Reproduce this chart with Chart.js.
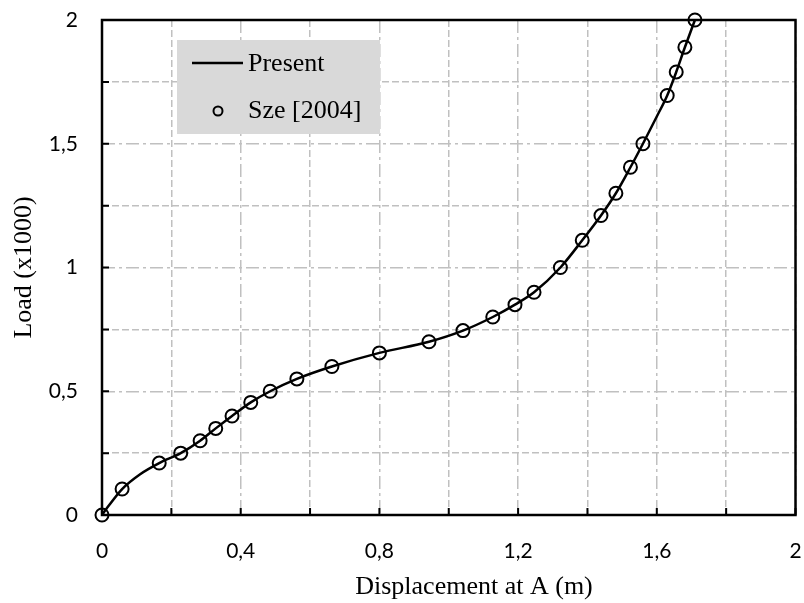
<!DOCTYPE html>
<html>
<head>
<meta charset="utf-8">
<script src="https://cdn.jsdelivr.net/npm/chart.js@4.4.0/dist/chart.umd.min.js"></script>
<style>
  body { margin: 0; background: #fff; }
</style>
</head>
<body>
<canvas id="chart" width="804" height="603"></canvas>
<script>
// Кривая нагрузка-перемещение (текущий расчёт)
const presentX = [0, 0.018, 0.058, 0.11, 0.165, 0.227, 0.283, 0.328, 0.375, 0.429, 0.485, 0.562, 0.663, 0.8, 0.943, 1.041, 1.127, 1.191, 1.246, 1.322, 1.385, 1.439, 1.482, 1.524, 1.56, 1.6, 1.63, 1.656, 1.681, 1.71];
const presentY = [0, 0.035, 0.105, 0.165, 0.21, 0.25, 0.3, 0.35, 0.4, 0.455, 0.5, 0.55, 0.6, 0.655, 0.7, 0.745, 0.8, 0.85, 0.9, 1.0, 1.11, 1.21, 1.3, 1.405, 1.5, 1.61, 1.695, 1.79, 1.89, 2.0];

// Точки из Sze [2004]
const szeX = [0, 0.058, 0.165, 0.227, 0.283, 0.328, 0.375, 0.429, 0.485, 0.562, 0.663, 0.8, 0.943, 1.041, 1.127, 1.191, 1.246, 1.322, 1.385, 1.439, 1.482, 1.524, 1.56, 1.63, 1.656, 1.681, 1.71];
const szeY = [0, 0.105, 0.21, 0.25, 0.3, 0.35, 0.4, 0.455, 0.5, 0.55, 0.6, 0.655, 0.7, 0.745, 0.8, 0.85, 0.9, 1.0, 1.11, 1.21, 1.3, 1.405, 1.5, 1.695, 1.79, 1.89, 2.0];

// Оси
const xMin = 0, xMax = 2, xStep = 0.2, xLabelStep = 0.4;
const yMin = 0, yMax = 2, yStep = 0.25, yLabelStep = 0.5;

const xTitle = "Displacement at A (m)";
const yTitle = "Load (x1000)";
const seriesNames = ["Present", "Sze [2004]"];

const serif = "'Liberation Serif', 'Times New Roman', serif";
const sans = "Lato, 'Open Sans', sans-serif";

function isMultiple(v, step) {
  const r = v / step;
  return Math.abs(r - Math.round(r)) < 1e-6;
}

// 0,4 вместо 0.4
function fmt(v) {
  return String(Number(v.toFixed(2))).replace(".", ",");
}

const gridDash = (step) => (ctx) =>
  ctx.tick && isMultiple(ctx.tick.value, step) ? [13, 4, 3, 4] : [7, 3];

// Рамка, внутренние засечки, легенда и подпись оси X
const framePlugin = {
  id: "frame",
  beforeDatasetsDraw(chart) {
    const { ctx, chartArea: a, scales } = chart;
    ctx.save();
    ctx.strokeStyle = "#000";
    ctx.lineWidth = 2;
    ctx.setLineDash([]);
    ctx.beginPath();
    scales.x.ticks.forEach((t) => {
      const px = scales.x.getPixelForValue(t.value);
      ctx.moveTo(px, a.bottom);
      ctx.lineTo(px, a.bottom - 7);
    });
    scales.y.ticks.forEach((t) => {
      const py = scales.y.getPixelForValue(t.value);
      ctx.moveTo(a.left, py);
      ctx.lineTo(a.left + 7, py);
    });
    ctx.stroke();
    ctx.lineWidth = 2.5;
    ctx.strokeRect(a.left, a.top, a.right - a.left, a.bottom - a.top);
    ctx.restore();
  },
  afterDraw(chart) {
    const { ctx } = chart;
    ctx.save();
    // легенда
    ctx.fillStyle = "#d9d9d9";
    ctx.fillRect(177, 40, 203, 94);
    ctx.strokeStyle = "#000";
    ctx.lineWidth = 2.5;
    ctx.beginPath();
    ctx.moveTo(192, 63);
    ctx.lineTo(243, 63);
    ctx.stroke();
    ctx.lineWidth = 2;
    ctx.beginPath();
    ctx.arc(218, 111, 4.5, 0, Math.PI * 2);
    ctx.stroke();
    ctx.fillStyle = "#000";
    ctx.font = "26px " + serif;
    ctx.textBaseline = "middle";
    ctx.textAlign = "left";
    ctx.fillText(seriesNames[0], 248, 64);
    ctx.fillText(seriesNames[1], 248, 111);
    // подпись оси X
    ctx.textAlign = "center";
    ctx.fillText(xTitle, 474, 587);
    ctx.restore();
  },
};

const chart = new Chart(document.getElementById("chart"), {
  type: "scatter",
  data: {
    datasets: [
      {
        label: seriesNames[0],
        data: presentX.map((x, i) => ({ x: x, y: presentY[i] })),
        showLine: true,
        borderColor: "#000",
        borderWidth: 2.5,
        pointRadius: 0,
        cubicInterpolationMode: "monotone",
        clip: false,
        order: 2,
      },
      {
        label: seriesNames[1],
        data: szeX.map((x, i) => ({ x: x, y: szeY[i] })),
        showLine: false,
        pointRadius: 6.5,
        pointBorderWidth: 2,
        pointBorderColor: "#000",
        pointBackgroundColor: "rgba(0,0,0,0)",
        clip: false,
        order: 1,
      },
    ],
  },
  options: {
    responsive: false,
    animation: false,
    layout: { padding: { top: 20, right: 8, left: 0, bottom: 0 } },
    plugins: {
      legend: { display: false },
      tooltip: { enabled: false },
    },
    scales: {
      x: {
        type: "linear",
        min: xMin,
        max: xMax,
        afterFit: (s) => {
          s.height = 88;
          s.paddingLeft = 0;
          s.paddingRight = 0;
        },
        ticks: {
          stepSize: xStep,
          autoSkip: false,
          maxRotation: 0,
          padding: 24,
          color: "#000",
          font: { family: sans, size: 21 },
          callback: (v) => (isMultiple(v, xLabelStep) ? fmt(v) : ""),
        },
        grid: { color: "#c0c0c0", lineWidth: 1.5, drawTicks: false },
        border: { display: false, dash: gridDash(xLabelStep) },
      },
      y: {
        type: "linear",
        min: yMin,
        max: yMax,
        afterFit: (s) => {
          s.width = 102;
          s.paddingTop = 0;
          s.paddingBottom = 0;
        },
        ticks: {
          stepSize: yStep,
          autoSkip: false,
          padding: 24,
          color: "#000",
          font: { family: sans, size: 21 },
          callback: (v) => (isMultiple(v, yLabelStep) ? fmt(v) : ""),
        },
        grid: { color: "#c0c0c0", lineWidth: 1.5, drawTicks: false },
        border: { display: false, dash: gridDash(yLabelStep) },
        title: {
          display: true,
          text: yTitle,
          color: "#000",
          font: { family: serif, size: 26 },
          padding: { top: 9, bottom: 0 },
        },
      },
    },
  },
  plugins: [framePlugin],
});
</script>
</body>
</html>
